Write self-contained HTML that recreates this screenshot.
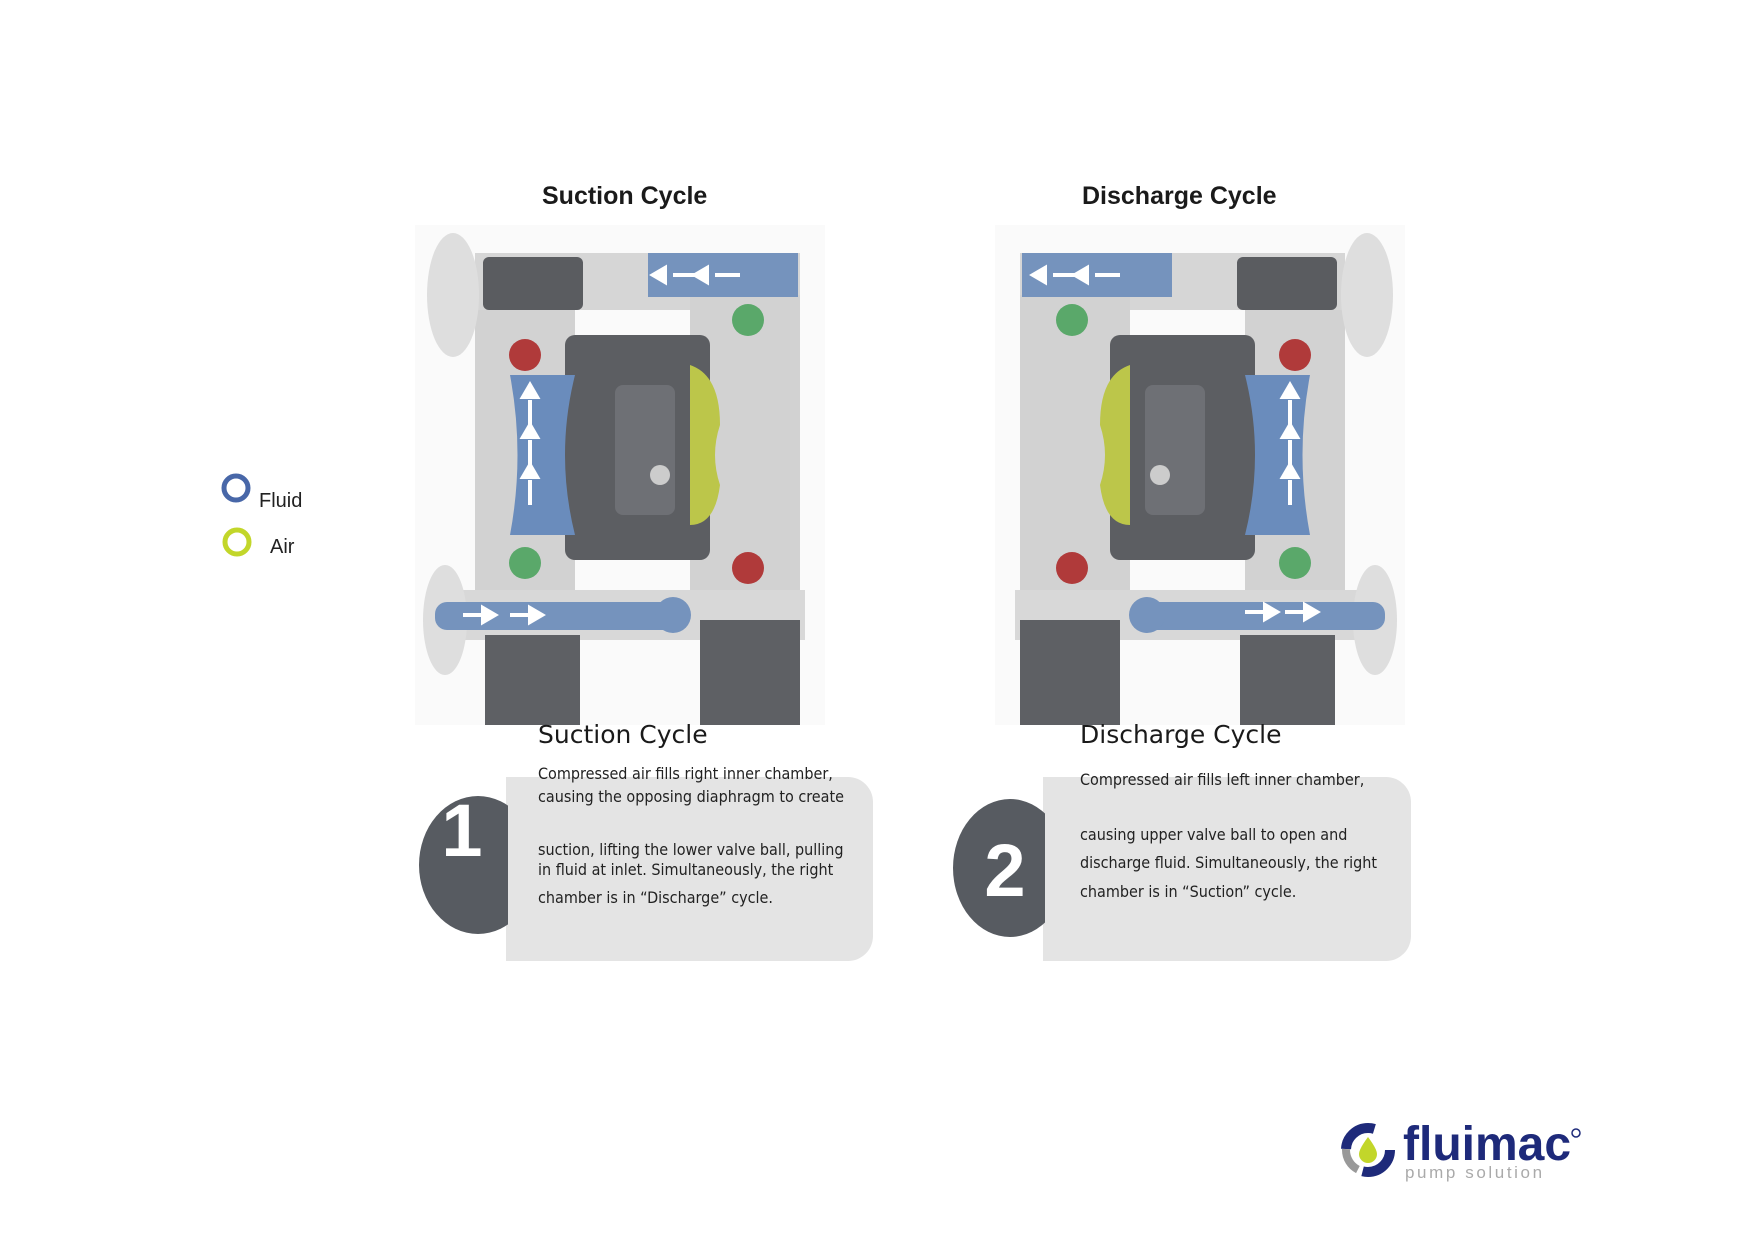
<!DOCTYPE html>
<html><head><meta charset="utf-8"><style>
body{margin:0;width:1754px;height:1240px;background:#fff;position:relative;overflow:hidden;font-family:"Liberation Sans",sans-serif}
.a{position:absolute;white-space:nowrap}
.t{font-weight:bold;font-size:25px;color:#1a1a1a}
.h{font-family:"DejaVu Sans","Liberation Sans",sans-serif;font-size:25px;color:#1a1a1a}
.b{font-family:"DejaVu Sans Condensed","DejaVu Sans",sans-serif;font-size:16px;color:#222}
</style></head><body>
<svg width="0" height="0" style="position:absolute">
<defs>
<g id="pump">
<rect x="0" y="0" width="410" height="500" fill="#fafafa"/>
<rect x="60" y="28" width="325" height="57" fill="#d6d6d6"/>
<rect x="60" y="85" width="100" height="295" fill="#d2d2d2"/>
<rect x="275" y="70" width="110" height="310" fill="#d2d2d2"/>
<ellipse cx="38" cy="70" rx="26" ry="62" fill="#dedede"/>
<rect x="68" y="32" width="100" height="53" rx="6" fill="#5a5c60"/>
<rect x="233" y="28" width="150" height="44" fill="#7593bd"/>
<rect x="150" y="110" width="145" height="225" rx="10" fill="#5c5e62"/>
<rect x="200" y="160" width="60" height="130" rx="8" fill="#6e7075"/>
<circle cx="245" cy="250" r="10" fill="#ccc"/>
<path d="M95 150 L160 150 Q140 230 160 310 L95 310 Q110 230 95 150Z" fill="#6a8cbc"/>
<path d="M275 140 Q305 150 305 200 Q295 230 305 260 Q300 300 275 300Z" fill="#bcc64a"/>
<rect x="15" y="365" width="375" height="50" fill="#d8d8d8"/>
<ellipse cx="30" cy="395" rx="22" ry="55" fill="#dedede"/>
<rect x="20" y="377" width="240" height="28" rx="12" fill="#7593bd"/>
<circle cx="258" cy="390" r="18" fill="#7593bd"/>
<rect x="70" y="410" width="95" height="90" fill="#5e6064"/>
<rect x="285" y="395" width="100" height="105" fill="#5e6064"/>
<circle cx="110" cy="130" r="16" fill="#b03a3a"/>
<circle cx="333" cy="95" r="16" fill="#5aa86a"/>
<circle cx="110" cy="338" r="16" fill="#5aa86a"/>
<circle cx="333" cy="343" r="16" fill="#b03a3a"/>
</g>
</defs></svg>
<div class="a t" style="left:542px;top:182px">Suction Cycle</div>
<div class="a t" style="left:1082px;top:182px">Discharge Cycle</div>
<svg class="a" style="left:415px;top:225px" width="410" height="505"><use href="#pump"/>
<g fill="#fff" stroke="#fff" stroke-width="4">
<path d="M258 50h25M238 50l12-7v14z M300 50h25M280 50l12-7v14z"/>
<path d="M115 175v25M115 160l-7 12h14z M115 215v25M115 200l-7 12h14z M115 255v25M115 240l-7 12h14z"/>
<path d="M48 390h22M80 390l-12-7v14z M95 390h22M127 390l-12-7v14z"/>
</g></svg>
<svg class="a" style="left:995px;top:225px" width="410" height="505"><g transform="translate(410,0) scale(-1,1)"><use href="#pump"/></g>
<g fill="#fff" stroke="#fff" stroke-width="4">
<path d="M58 50h25M38 50l12-7v14z M100 50h25M80 50l12-7v14z"/>
<path d="M295 175v25M295 160l-7 12h14z M295 215v25M295 200l-7 12h14z M295 255v25M295 240l-7 12h14z"/>
<path d="M250 387h22M282 387l-12-7v14z M290 387h22M322 387l-12-7v14z"/>
</g></svg>
<svg class="a" style="left:0;top:0" width="1754" height="1240">
<circle cx="236" cy="488" r="12" fill="none" stroke="#4867a8" stroke-width="5"/>
<circle cx="237" cy="542" r="12" fill="none" stroke="#c2d62a" stroke-width="5"/>
<path d="M506 777H848a25 25 0 0 1 25 25V936a25 25 0 0 1-25 25H506Z" fill="#e4e4e4"/>
<path d="M1043 777H1386a25 25 0 0 1 25 25V936a25 25 0 0 1-25 25H1043Z" fill="#e4e4e4"/>
<clipPath id="c1"><rect x="400" y="780" width="108" height="180"/></clipPath>
<clipPath id="c2"><rect x="930" y="780" width="115" height="180"/></clipPath>
<ellipse cx="478" cy="865" rx="59" ry="69" fill="#575b61" clip-path="url(#c1)"/>
<ellipse cx="1010" cy="868" rx="57" ry="69" fill="#575b61" clip-path="url(#c2)"/>
<text x="462" y="856" font-family="Liberation Sans" font-weight="bold" font-size="74" fill="#fff" text-anchor="middle">1</text>
<text x="1005" y="896" font-family="Liberation Sans" font-weight="bold" font-size="74" fill="#fff" text-anchor="middle">2</text>
<text x="1403" y="1160" font-family="Liberation Sans" font-weight="bold" font-size="48" fill="#1e2a7a">fluimac</text>
<text x="1405" y="1178" font-family="Liberation Sans" font-size="17" letter-spacing="2.6" fill="#aaa">pump solution</text>
<circle cx="1576" cy="1133" r="4" fill="none" stroke="#1e2a7a" stroke-width="1.5"/>
<circle cx="1368" cy="1150" r="22" fill="none" stroke="#1e2a7a" stroke-width="10" stroke-dasharray="40 30"/>
<circle cx="1368" cy="1150" r="22" fill="none" stroke="#999" stroke-width="8" stroke-dasharray="25 113" stroke-dashoffset="-45"/>
<path d="M1368 1137q-9 12-9 17a9 9 0 0 0 18 0q0-5-9-17z" fill="#c2d62a"/>
</svg>
<div class="a" style="left:259px;top:490px;font-size:20px;color:#222">Fluid</div>
<div class="a" style="left:270px;top:536px;font-size:20px;color:#222">Air</div>
<div class="a h" style="left:538px;top:720px">Suction Cycle</div>
<div class="a h" style="left:1080px;top:720px">Discharge Cycle</div>
<div class="a b" style="left:538px;top:764px">Compressed air fills right inner chamber,</div>
<div class="a b" style="left:538px;top:787px">causing the opposing diaphragm to create</div>
<div class="a b" style="left:538px;top:840px">suction, lifting the lower valve ball, pulling</div>
<div class="a b" style="left:538px;top:860px">in fluid at inlet. Simultaneously, the right</div>
<div class="a b" style="left:538px;top:888px">chamber is in “Discharge” cycle.</div>
<div class="a b" style="left:1080px;top:770px">Compressed air fills left inner chamber,</div>
<div class="a b" style="left:1080px;top:825px">causing upper valve ball to open and</div>
<div class="a b" style="left:1080px;top:853px">discharge fluid. Simultaneously, the right</div>
<div class="a b" style="left:1080px;top:882px">chamber is in “Suction” cycle.</div>
</body></html>
